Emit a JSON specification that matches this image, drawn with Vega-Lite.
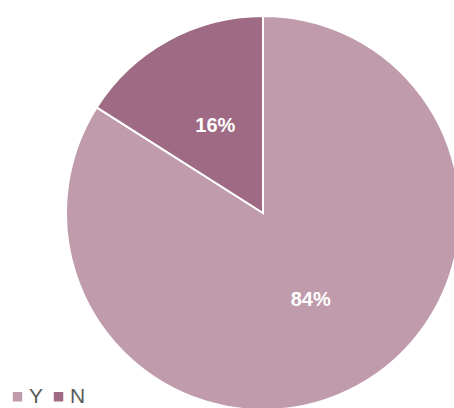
{
  "$schema": "https://vega.github.io/schema/vega-lite/v6.json",
  "width": 526,
  "height": 426,
  "autosize": {"type": "none"},
  "padding": 0,
  "background": "white",
  "config": {"view": {"stroke": null}, "font": "Liberation Sans"},
  "data": {"values": [
    {"answer": "Y", "value": 84, "label": "84%", "order": 1},
    {"answer": "N", "value": 16, "label": "16%", "order": 2}
  ]},
  "encoding": {
    "theta": {"field": "value", "type": "quantitative", "stack": true},
    "order": {"field": "order", "type": "quantitative"},
    "color": {
      "field": "answer", "type": "nominal",
      "scale": {"domain": ["Y", "N"], "range": ["#BF9BAB", "#9E6A84"]},
      "legend": {
        "title": null, "orient": "none", "legendX": 7, "legendY": 386,
        "direction": "horizontal", "symbolType": "square", "symbolSize": 90,
        "symbolStrokeWidth": 0,
        "labelFontSize": 21, "labelColor": "#595959", "labelFont": "Liberation Sans",
        "columnPadding": 4, "symbolOffset": 0, "labelOffset": 1
      }
    }
  },
  "layer": [
    {"mark": {"type": "arc", "radius": 197, "stroke": "white", "strokeWidth": 2}},
    {
      "mark": {"type": "text", "radius": 99, "fontSize": 20, "fontWeight": "bold", "fill": "white", "font": "Liberation Sans"},
      "encoding": {"text": {"field": "label", "type": "nominal"}, "color": {"value": "white"}}
    }
  ]
}
